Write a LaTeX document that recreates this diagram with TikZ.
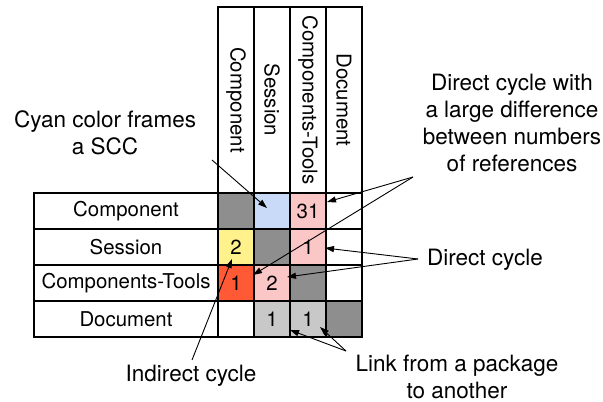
\documentclass[tikz,border=0pt]{standalone}
\usepackage{fontspec}
\setmainfont{TeX Gyre Heros}
\usetikzlibrary{arrows.meta}
\definecolor{dg}{HTML}{8E8E8E}
\definecolor{lg}{HTML}{C8C8C8}
\definecolor{pk}{HTML}{FBC6C6}
\definecolor{cy}{HTML}{C9DAF8}
\definecolor{yl}{HTML}{FFF28D}
\definecolor{rd}{HTML}{FF5A35}
\begin{document}
\begin{tikzpicture}[x=1pt,y=-1pt,
  cell/.style={draw=black, line width=1.2pt, minimum width=36pt, minimum height=36pt, inner sep=0pt, font=\fontsize{20.4}{24}\selectfont},
  rowlab/.style={draw=black, line width=1.2pt, minimum width=184pt, minimum height=36pt, inner sep=0pt, font=\fontsize{20.4}{24}\selectfont},
  collab/.style={draw=black, line width=1.2pt, rotate=-90, minimum width=186pt, minimum height=36pt, inner sep=0pt, font=\fontsize{20.4}{24}\selectfont},
  note/.style={align=center, inner sep=0pt, font=\fontsize{22.5}{27}\selectfont},
  arr/.style={line width=0.9pt, -{Triangle[length=9pt,width=6pt]}}]
\useasboundingbox (0,0) rectangle (603,402);
% column headers
\node[collab] (h1) at (236,100) {Component};
\node[collab] (h2) at (272,100) {Session};
\node[collab] (h3) at (308,100) {Components-Tools};
\node[collab] (h4) at (344,100) {Document};
% row labels
\node[rowlab] (r1) at (126,211) {Component};
\node[rowlab] (r2) at (126,247) {Session};
\node[rowlab] (r3) at (126,283) {Components-Tools};
\node[rowlab] (r4) at (126,319) {Document};
% row 1
\node[cell, fill=dg] (c11) at (236,211) {};
\node[cell, fill=cy] (c12) at (272,211) {};
\node[cell, fill=pk] (c13) at (308,211) {31};
\node[cell, fill=white] (c14) at (344,211) {};
% row 2
\node[cell, fill=yl] (c21) at (236,247) {2};
\node[cell, fill=dg] (c22) at (272,247) {};
\node[cell, fill=pk] (c23) at (308,247) {1};
\node[cell, fill=white] (c24) at (344,247) {};
% row 3
\node[cell, fill=rd] (c31) at (236,283) {1};
\node[cell, fill=pk] (c32) at (272,283) {2};
\node[cell, fill=dg] (c33) at (308,283) {};
\node[cell, fill=white] (c34) at (344,283) {};
% row 4
\node[cell, fill=white] (c41) at (236,319) {};
\node[cell, fill=lg] (c42) at (272,319) {1};
\node[cell, fill=lg] (c43) at (308,319) {1};
\node[cell, fill=dg] (c44) at (344,319) {};
% notes
\node[note] (n1) at (105,133) {Cyan color frames\\a SCC};
\node[note] (n2) at (512,123) {Direct cycle with\\a large difference\\between numbers\\of references};
\node[note, anchor=west] (n3) at (427,260) {Direct cycle};
\node[note] (n4) at (191,376) {Indirect cycle};
\node[note] (n5) at (457,377) {Link from a package\\to another};
% free ends
\coordinate (s1) at (212,160);
\coordinate (s2) at (413,177);
\coordinate (s3) at (418,259);
\coordinate (s4) at (192,360);
\coordinate (s5) at (346,351);
% arrows
\draw[arr] (s1) -- ([xshift=-5pt,yshift=3pt]c12.center);
\draw[arr] (s2) -- ([xshift=19pt,yshift=9pt]c13.center);
\draw[arr] (s2) -- ([xshift=17pt,yshift=8pt]c31.center);
\draw[arr] (s3) -- ([xshift=17pt,yshift=-1pt]c23.center);
\draw[arr] (s3) -- ([xshift=15pt,yshift=6pt]c32.center);
\draw[arr] (s4) -- ([xshift=-4pt,yshift=-12pt]c21.center);
\draw[arr] (s5) -- ([xshift=18pt,yshift=-11pt]c42.center);
\draw[arr] (s5) -- ([xshift=12pt,yshift=-8pt]c43.center);
\end{tikzpicture}
\end{document}
